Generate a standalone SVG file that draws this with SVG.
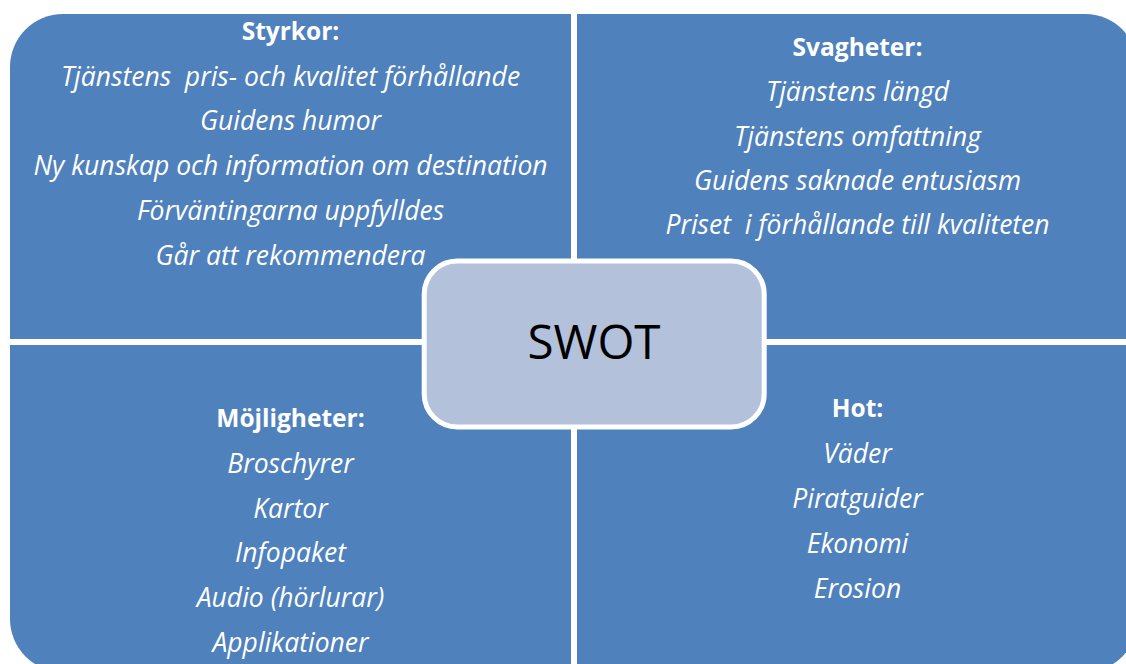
<svg xmlns="http://www.w3.org/2000/svg" width="1126" height="664" viewBox="0 0 1126 664">
<style>
.q{fill:#4F81BD}
text{fill:#FFFFFF;font-family:"Open Sans","Liberation Sans",sans-serif;text-anchor:middle;white-space:pre}
.h{font-weight:bold;font-size:24.5px}
.i{font-style:italic;font-size:26.5px}
.c{fill:#B3C1DB;stroke:#FFFFFF;stroke-width:5}
.t{fill:#000000;font-size:47.5px}
</style>
<rect width="1126" height="664" fill="#FFFFFF"/>
<g id="strengths">
<path class="q" d="M10,339 V67 A53,53 0 0 1 63,14 H571 V339 Z"/>
<text class="h" x="290.5" y="40">Styrkor:</text>
<text class="i" x="290.5" y="86">Tjänstens  pris- och kvalitet förhållande</text>
<text class="i" x="290.5" y="130">Guidens humor</text>
<text class="i" x="290.5" y="175">Ny kunskap och information om destination</text>
<text class="i" x="290.5" y="220">Förväntingarna uppfylldes</text>
<text class="i" x="290.5" y="265">Går att rekommendera</text>
</g>
<g id="weaknesses">
<path class="q" d="M577,14 H1085 A53,53 0 0 1 1138,67 V339 H577 Z"/>
<text class="h" x="857.5" y="56">Svagheter:</text>
<text class="i" x="857.5" y="101">Tjänstens längd</text>
<text class="i" x="857.5" y="146">Tjänstens omfattning</text>
<text class="i" x="857.5" y="190">Guidens saknade entusiasm</text>
<text class="i" x="857.5" y="234">Priset  i förhållande till kvaliteten</text>
</g>
<g id="opportunities">
<path class="q" d="M10,345 H571 V672 H63 A53,53 0 0 1 10,619 Z"/>
<text class="h" x="290.5" y="427">Möjligheter:</text>
<text class="i" x="290.5" y="473">Broschyrer</text>
<text class="i" x="290.5" y="518">Kartor</text>
<text class="i" x="290.5" y="562">Infopaket</text>
<text class="i" x="290.5" y="607">Audio (hörlurar)</text>
<text class="i" x="290.5" y="652">Applikationer</text>
</g>
<g id="threats">
<path class="q" d="M577,345 H1138 V619 A53,53 0 0 1 1085,672 H577 Z"/>
<text class="h" x="857.5" y="417">Hot:</text>
<text class="i" x="857.5" y="463">Väder</text>
<text class="i" x="857.5" y="508">Piratguider</text>
<text class="i" x="857.5" y="553">Ekonomi</text>
<text class="i" x="857.5" y="598">Erosion</text>
</g>
<g id="swot">
<rect class="c" x="424.2" y="261" width="340" height="166" rx="33"/>
<text class="t" x="594" y="359">SWOT</text>
</g>
</svg>
